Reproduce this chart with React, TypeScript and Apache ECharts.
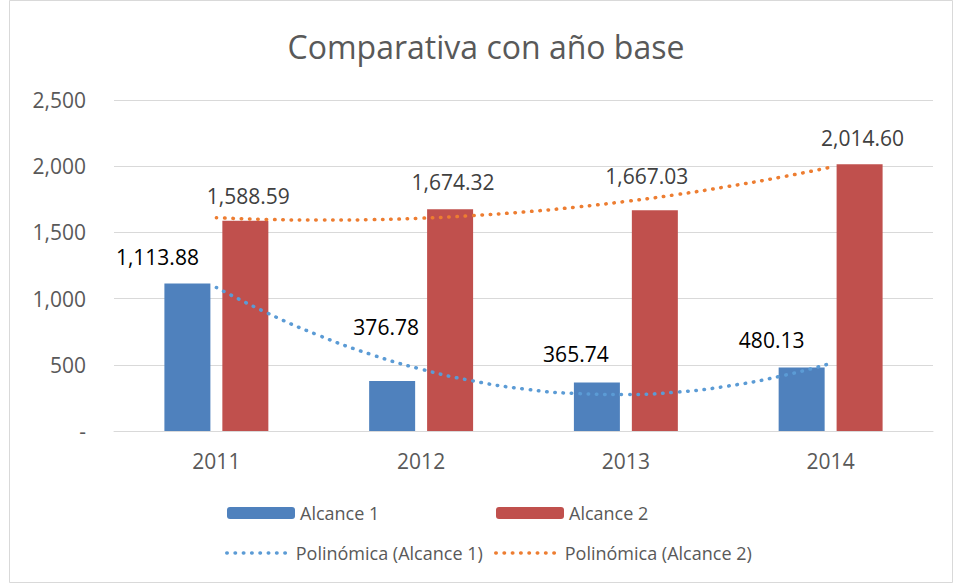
import React, { useEffect, useRef } from "react";
import * as echarts from "echarts";

const titleText = "Comparativa con año base";
const categories = ["2011", "2012", "2013", "2014"];
const alcance1 = [1113.88, 376.78, 365.74, 480.13];
const alcance2 = [1588.59, 1674.32, 1667.03, 2014.6];
const yMin = 0;
const yMax = 2500;
const yInterval = 500;

// Trendline readings (x in category units, 1 = 2011 ... 4 = 2014)
const trendX = [1, 1.25, 1.5, 1.75, 2, 2.25, 2.5, 2.75, 3, 3.25, 3.5, 3.75, 4];
const trend1 = [1084, 890, 722, 581, 467, 379, 318, 284, 276, 294, 340, 412, 510];
const trend2 = [1611, 1598, 1593, 1596, 1607, 1627, 1654, 1690, 1734, 1786, 1847, 1915, 1992];

// label offsets (styling only)
const label1Offsets = [[-30, -11], [-6, -39], [-21, -13], [-30, -12]];
const label2Offsets = [[3, -9], [3, -12], [-8, -19], [3, -11]];

const FONT = "'Open Sans', 'Noto Sans', sans-serif";
const fmt = (v: number) =>
  v.toLocaleString("en-US", { minimumFractionDigits: 2, maximumFractionDigits: 2 });

export default function App() {
  const ref = useRef<HTMLDivElement>(null);
  useEffect(() => {
    if (!ref.current) return;
    const chart = echarts.init(ref.current, null, { renderer: "svg" });
    const dotted = { width: 3.5, type: [0.5, 7.8], cap: "round" as const };
    const legendBase = {
      orient: "horizontal" as const,
      padding: 0,
      itemWidth: 68,
      itemHeight: 12,
      textStyle: { fontFamily: FONT, fontSize: 18, color: "#595959", lineHeight: 24 },
    };
    const lineLegend = {
      ...legendBase,
      itemWidth: 64,
      itemStyle: { opacity: 0 },
      lineStyle: { ...dotted },
    };
    chart.setOption({
      animation: false,
      backgroundColor: "#ffffff",
      graphic: [
        {
          type: "rect",
          z: -10,
          shape: { x: 9.5, y: 0.5, width: 943, height: 582 },
          style: { fill: "none", stroke: "#D9D9D9", lineWidth: 1 },
        },
        {
          type: "text",
          x: 486,
          y: 46,
          style: {
            text: titleText,
            fontFamily: FONT,
            fontSize: 32,
            fill: "#595959",
            align: "center",
            verticalAlign: "middle",
          },
        },
      ],
      grid: { left: 114, right: 22, top: 100, bottom: 154, containLabel: false },
      legend: [
        { ...legendBase, data: ["Alcance 1"], left: 227, top: 501 },
        { ...legendBase, data: ["Alcance 2"], left: 496, top: 501 },
        { ...lineLegend, data: ["Polinómica (Alcance 1)"], left: 225, top: 541 },
        { ...lineLegend, data: ["Polinómica (Alcance 2)"], left: 494, top: 541 },
      ],
      xAxis: [
        {
          type: "category",
          data: categories,
          boundaryGap: true,
          axisLine: { show: true, lineStyle: { color: "#D9D9D9", width: 1 } },
          axisTick: { show: false },
          axisLabel: { fontFamily: FONT, fontSize: 21, color: "#595959", margin: 19 },
        },
        {
          type: "value",
          min: 0.5,
          max: 4.5,
          show: false,
          position: "bottom",
        },
      ],
      yAxis: {
        type: "value",
        min: yMin,
        max: yMax,
        interval: yInterval,
        axisLine: { show: false },
        axisTick: { show: false },
        splitLine: { lineStyle: { color: "#D9D9D9", width: 1 } },
        axisLabel: {
          fontFamily: FONT,
          fontSize: 21,
          color: "#595959",
          margin: 28,
          formatter: (v: number) => (v === 0 ? "-" : v.toLocaleString("en-US")),
        },
      },
      series: [
        {
          name: "Alcance 1",
          type: "bar",
          barWidth: 46,
          barGap: "26%",
          itemStyle: { color: "#4F81BD" },
          data: alcance1.map((v, i) => ({
            value: v,
            label: { offset: label1Offsets[i] },
          })),
          label: {
            show: true,
            position: "top",
            fontFamily: FONT,
            fontSize: 21,
            color: "#000000",
            formatter: (p: any) => fmt(p.value),
          },
          z: 2,
        },
        {
          name: "Alcance 2",
          type: "bar",
          barWidth: 46,
          barGap: "26%",
          itemStyle: { color: "#C0504D" },
          data: alcance2.map((v, i) => ({
            value: v,
            label: { offset: label2Offsets[i] },
          })),
          label: {
            show: true,
            position: "top",
            fontFamily: FONT,
            fontSize: 21,
            color: "#404040",
            formatter: (p: any) => fmt(p.value),
          },
          z: 2,
        },
        {
          name: "Polinómica (Alcance 1)",
          type: "line",
          xAxisIndex: 1,
          smooth: true,
          symbol: "none",
          color: "#5B9BD5",
          lineStyle: { color: "#5B9BD5", ...dotted },
          data: trendX.map((x, i) => [x, trend1[i]]),
          z: 5,
        },
        {
          name: "Polinómica (Alcance 2)",
          type: "line",
          xAxisIndex: 1,
          smooth: true,
          symbol: "none",
          color: "#ED7D31",
          lineStyle: { color: "#ED7D31", ...dotted },
          data: trendX.map((x, i) => [x, trend2[i]]),
          z: 5,
        },
      ],
    });
    return () => chart.dispose();
  }, []);
  return (
    <div
      ref={ref}
      style={{ position: "fixed", left: 0, top: 0, width: 955, height: 585, background: "#fff" }}
    />
  );
}
